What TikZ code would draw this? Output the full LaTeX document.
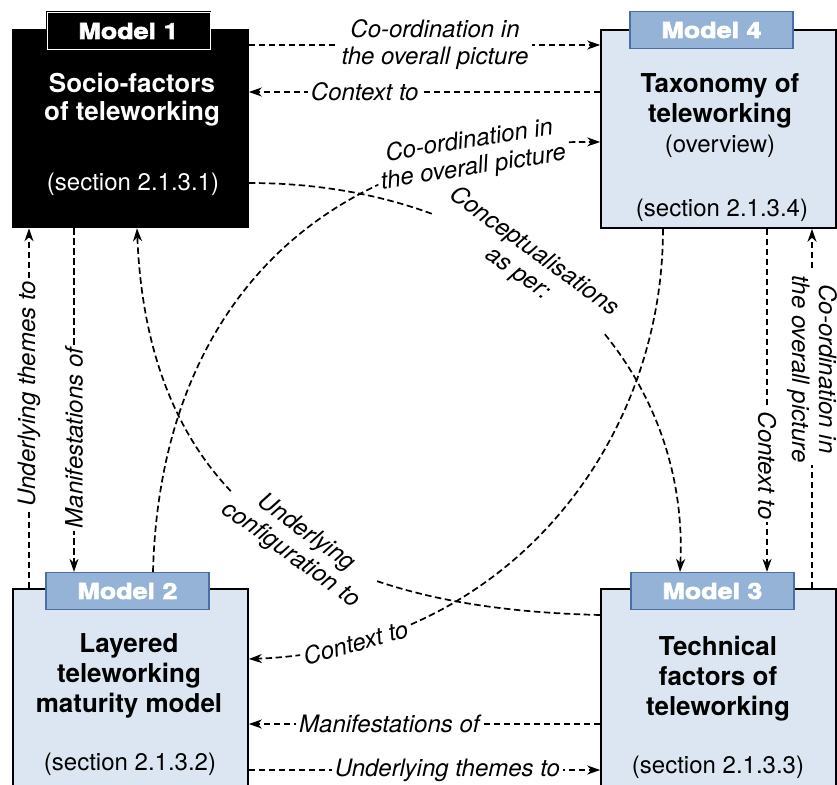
\documentclass[tikz,border=0pt]{standalone}
\usepackage{fontspec}
\setmainfont{TeX Gyre Heros}
\newfontfamily\tabfont[FakeBold=3,FakeStretch=1.22]{TeX Gyre Heros}
\usetikzlibrary{arrows.meta}
\definecolor{boxblue}{HTML}{DCE6F2}
\definecolor{tabblue}{HTML}{95B3D7}
\definecolor{tabedge}{HTML}{4A6FA5}

\begin{document}
\begin{tikzpicture}[x=1pt,y=-1pt, >={Stealth[length=13pt,width=9pt,inset=4pt]},
  model/.style={draw=black, line width=1.6pt, fill=boxblue, minimum width=235pt, minimum height=198pt, inner sep=0pt},
  tab/.style={draw=tabedge, line width=1.2pt, fill=tabblue, text=white, minimum width=163pt, minimum height=37pt, inner sep=0pt, font=\fontsize{22}{24}\tabfont\bfseries\selectfont},
  title/.style={align=center, anchor=base, font=\fontsize{26}{30}\selectfont\bfseries},
  section/.style={anchor=base, font=\fontsize{24}{28}\selectfont},
  link/.style={->, line width=1.7pt, dash pattern=on 6.5pt off 3.5pt},
  linklabel/.style={fill=white, align=center, inner sep=3pt, font=\fontsize{24}{27}\selectfont\itshape}]
\useasboundingbox (0,0) rectangle (837,784);
\clip (0,0) rectangle (837,784);

% the four models
\node[model, fill=black] (m1) at (130.5,128.5) {};
\node[model] (m4) at (718.5,129) {};
\node[model] (m2) at (130.5,688) {};
\node[model] (m3) at (718.5,688) {};

\node[tab, fill=black, draw=black, double=white, double distance=1pt, line width=0.8pt] (t1) at (128.5,31) {Model 1};
\node[tab] (t4) at (711.5,30) {Model 4};
\node[tab] (t2) at (127.5,591) {Model 2};
\node[tab] (t3) at (712.5,591) {Model 3};

% titles (base = last line)
\node[title, text=white, font=\fontsize{26}{28}\selectfont\bfseries] (n1) at (132,120) {Socio-factors\\of teleworking};
\node[section, text=white] (s1) at (133,190) {(section 2.1.3.1)};
\node[title] (n4) at (720,152) {Taxonomy of\\teleworking\\{\mdseries\fontsize{24}{30}\selectfont (overview)}};
\node[section] (s4) at (722,216) {(section 2.1.3.4)};
\node[title] (n2) at (129,712) {Layered\\teleworking\\maturity model};
\node[section] (s2) at (130,770) {(section 2.1.3.2)};
\node[title] (n3) at (718,715) {Technical\\factors of\\teleworking};
\node[section] (s3) at (718,773) {(section 2.1.3.3)};

% straight links
\draw[link] (m1.east |- 0,45) -- node[linklabel, pos=0.53] {Co-ordination in\\the overall picture} (m4.west |- 0,45);
\draw[link] (m4.west |- 0,92) -- node[linklabel, pos=0.67] {Context to} (m1.east |- 0,92);
\draw[link] (m2.north -| 29,0) -- node[linklabel, rotate=90, pos=0.54] {Underlying themes to} (m1.south -| 29,0);
\draw[link] (m1.south -| 74,0) -- node[linklabel, rotate=90, pos=0.61] {Manifestations of} (t2.north -| 74,0);
\draw[link] (m4.south -| 767,0) -- node[linklabel, rotate=-90, pos=0.69] {Context to} (t3.north -| 767,0);
\draw[link] (m3.north -| 812,0) -- node[linklabel, rotate=-90, pos=0.61] {Co-ordination in\\the overall picture} (m4.south -| 812,0);
\draw[link] (m3.west |- 0,724) -- node[linklabel, pos=0.6] {Manifestations of} (m2.east |- 0,724);
\draw[link] (m2.east |- 0,770) -- node[linklabel, pos=0.565] {Underlying themes to} (m3.west |- 0,770);

% curved links
\draw[link] (t2.north -| 153,0) .. controls (160,300) and (330,140) .. node[linklabel, pos=0.83, rotate=9] {Co-ordination in\\the overall picture} (m4.west |- 0,142);
\draw[link] (m1.east |- 0,183) .. controls (520,183) and (690,360) .. node[linklabel, pos=0.41, rotate=-36] {Conceptualisations\\as per:} (t3.north -| 680,0);
\draw[link] (m4.south -| 663,0) .. controls (663,450) and (500,650) .. node[linklabel, pos=0.85, sloped] {Context to} (m2.east |- 0,659);
\draw[link] (m3.west |- 0,615) .. controls (400,610) and (150,560) .. node[linklabel, pos=0.5, rotate=-36] {Underlying\\configuration to} (m1.south -| 137,0);
\end{tikzpicture}
\end{document}
